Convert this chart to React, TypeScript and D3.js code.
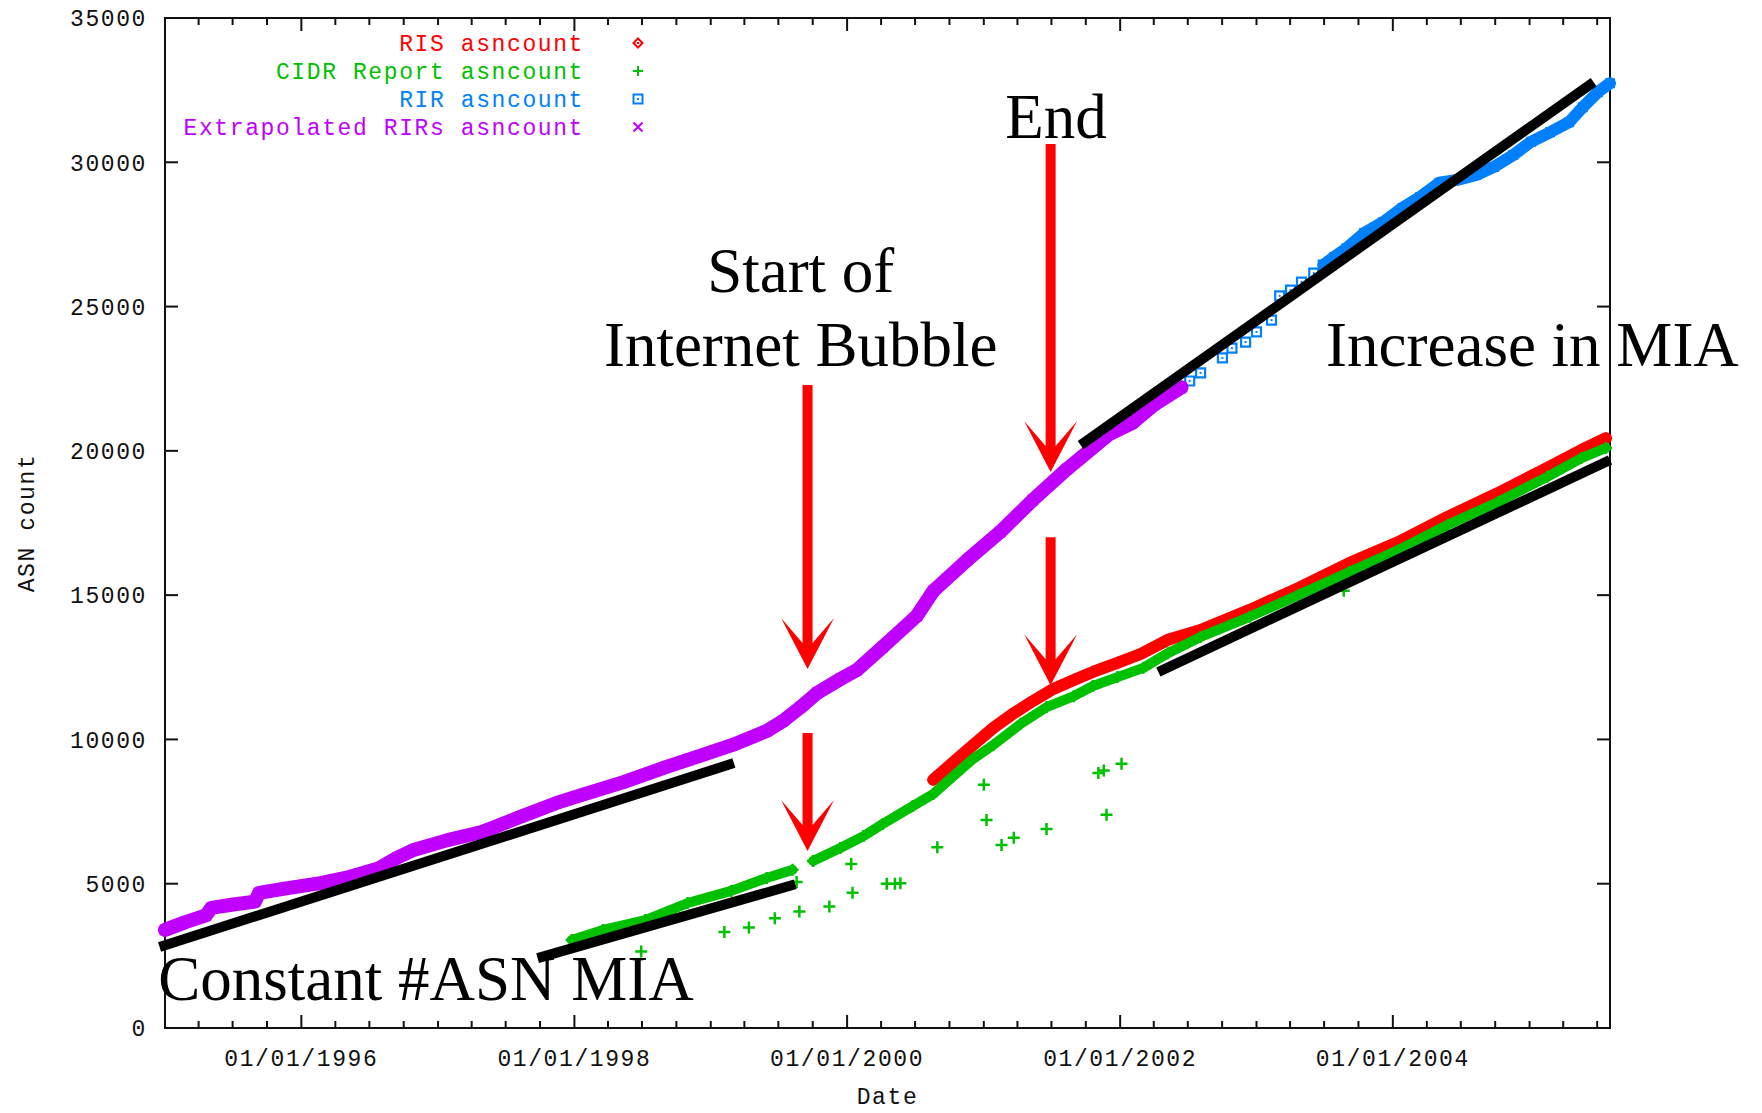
import React, { useEffect, useRef } from 'react';
import * as d3 from 'd3';

const W = 1762;
const H = 1113;

// all series: [decimal year, ASN count]
const risAsn: [number, number][] = [
  [2000.63, 8600], [2000.77, 9180], [2000.92, 9800], [2001.07, 10400], [2001.21, 10880],
  [2001.36, 11330], [2001.51, 11750], [2001.66, 12060], [2001.80, 12340], [2001.98, 12650],
  [2002.15, 12960], [2002.35, 13450], [2002.59, 13790], [2002.95, 14490], [2003.31, 15250],
  [2003.68, 16110], [2004.04, 16840], [2004.40, 17710], [2004.77, 18540], [2005.13, 19410],
  [2005.38, 20030], [2005.56, 20440],
];

// null = gap in the CIDR report band
const cidrAsn: [number, number | null][] = [
  [1997.98, 3050], [1998.21, 3400], [1998.52, 3740], [1998.83, 4330], [1999.15, 4750],
  [1999.41, 5200], [1999.60, 5480], [1999.68, null], [1999.75, 5790], [1999.95, 6240],
  [2000.12, 6650], [2000.26, 7070], [2000.48, 7690], [2000.63, 8110], [2000.77, 8700],
  [2000.92, 9320], [2001.07, 9810], [2001.27, 10540], [2001.46, 11120], [2001.66, 11500],
  [2001.80, 11850], [2001.98, 12160], [2002.17, 12480], [2002.35, 12990], [2002.59, 13550],
  [2002.95, 14250], [2003.31, 15010], [2003.68, 15800], [2004.04, 16560], [2004.40, 17430],
  [2004.77, 18230], [2005.13, 19100], [2005.38, 19750], [2005.56, 20100],
];

const cidrOutliers: [number, number][] = [
  [1998.49, 2650], [1999.10, 3330], [1999.28, 3480], [1999.47, 3800], [1999.65, 4040],
  [1999.63, 5060], [1999.87, 4210], [2000.04, 4690], [2000.03, 5680], [2000.29, 5000],
  [2000.35, 5000], [2000.39, 5020], [2000.66, 6260], [2001.00, 8430], [2001.02, 7210],
  [2001.13, 6340], [2001.22, 6590], [2001.46, 6900], [2001.84, 8840], [2001.88, 8920],
  [2002.01, 9160], [2001.90, 7390], [2003.64, 15150],
];

// early RIR reports, sparse enough to show single squares
const rirMonthly: [number, number][] = [
  [2002.44, 22180], [2002.51, 22420], [2002.59, 22700], [2002.75, 23220], [2002.82, 23560],
  [2002.92, 23770], [2003.00, 24120], [2003.11, 24530], [2003.17, 25370], [2003.25, 25570],
  [2003.33, 25850], [2003.42, 26160], [2003.49, 26440],
];

const rirAsn: [number, number][] = [
  [2003.49, 26440], [2003.57, 26720], [2003.66, 27020], [2003.79, 27550], [2003.93, 27930],
  [2004.07, 28420], [2004.20, 28800], [2004.34, 29290], [2004.47, 29390], [2004.61, 29560],
  [2004.74, 29840], [2004.88, 30250], [2005.01, 30710], [2005.15, 31040], [2005.29, 31390],
  [2005.39, 31910], [2005.50, 32430], [2005.59, 32740],
];

const extrapolatedAsn: [number, number][] = [
  [1995.00, 3400], [1995.15, 3670], [1995.30, 3900], [1995.34, 4160], [1995.50, 4280],
  [1995.66, 4380], [1995.69, 4680], [1995.90, 4850], [1996.14, 5020], [1996.35, 5230],
  [1996.57, 5540], [1996.70, 5900], [1996.82, 6170], [1997.07, 6510], [1997.32, 6790],
  [1997.60, 7310], [1997.87, 7800], [1998.05, 8070], [1998.36, 8520], [1998.67, 9040],
  [1998.92, 9430], [1999.16, 9810], [1999.41, 10290], [1999.53, 10640], [1999.66, 11120],
  [1999.78, 11610], [1999.95, 12090], [2000.07, 12400], [2000.26, 13200], [2000.51, 14280],
  [2000.63, 15140], [2000.88, 16220], [2001.12, 17190], [2001.36, 18300], [2001.61, 19370],
  [2001.92, 20580], [2002.09, 20970], [2002.25, 21600], [2002.45, 22200],
];

const yTicks = [0, 5000, 10000, 15000, 20000, 25000, 30000, 35000];
const xDomain = [1995.0, 2005.59];

const legendItems = [
  { label: 'RIS asncount', color: '#ff0000', symbol: 'diamond' },
  { label: 'CIDR Report asncount', color: '#00c000', symbol: 'plus' },
  { label: 'RIR asncount', color: '#0080ff', symbol: 'square' },
  { label: 'Extrapolated RIRs asncount', color: '#c000ff', symbol: 'times' },
];

// hand drawn annotations, in data space
const trendLines: [number, number][][] = [
  [[1994.96, 2810], [1999.17, 9180]],
  [[1997.73, 2420], [1999.62, 4980]],
  [[2001.71, 20200], [2005.47, 32780]],
  [[2002.28, 12340], [2005.59, 19680]],
];

const arrows = [
  { at: 1999.71, from: 22280, to: 12440 },
  { at: 1999.71, from: 10220, to: 6130 },
  { at: 2001.49, from: 30630, to: 19270 },
  { at: 2001.49, from: 17010, to: 11880 },
];

const notes = [
  { text: 'End', at: 2001.53, value: 30840, anchor: 'middle' },
  { text: 'Start of', at: 1999.66, value: 25500, anchor: 'middle' },
  { text: 'Internet Bubble', at: 1999.66, value: 22940, anchor: 'middle' },
  { text: 'Increase in MIA', at: 2003.51, value: 22940, anchor: 'start' },
  { text: 'Constant #ASN MIA', at: 1994.95, value: 970, anchor: 'start' },
];

const toDate = (y: number) => {
  const yr = Math.floor(y);
  const a = Date.UTC(yr, 0, 1);
  const b = Date.UTC(yr + 1, 0, 1);
  return new Date(a + (y - yr) * (b - a));
};

const markerPath = (kind: string, s: number) => {
  switch (kind) {
    case 'diamond': return `M0,${-s}L${s},0L0,${s}L${-s},0Z`;
    case 'plus': return `M${-s},0H${s}M0,${-s}V${s}`;
    case 'square': return `M${-s},${-s}H${s}V${s}H${-s}Z`;
    default: return `M${-s},${-s}L${s},${s}M${s},${-s}L${-s},${s}`;
  }
};

const MONO = '"Liberation Mono", "DejaVu Sans Mono", monospace';
const SERIF = '"Liberation Serif", "Times New Roman", serif';

export default function App() {
  const ref = useRef<SVGSVGElement>(null);

  useEffect(() => {
    const svg = d3.select(ref.current);
    svg.selectAll('*').remove();

    const left = 165, right = 1610, top = 18, bottom = 1028;

    const x = d3.scaleUtc().domain(xDomain.map(toDate)).range([left, right]);
    const y = d3.scaleLinear().domain([0, 35000]).range([bottom, top]);
    const px = (d: number) => x(toDate(d));

    svg.append('rect').attr('width', W).attr('height', H).attr('fill', '#fff');

    // ticks, mirrored on all four sides like gnuplot
    const axis = svg.append('g').attr('stroke', '#111').attr('stroke-width', 2);
    const minor = x.ticks(d3.utcMonth.every(3)!);
    minor.forEach(t => {
      const major = t.getUTCMonth() === 0 && t.getUTCFullYear() % 2 === 0;
      const len = major ? 13 : 7;
      const xx = x(t);
      axis.append('line').attr('x1', xx).attr('x2', xx).attr('y1', bottom).attr('y2', bottom - len);
      axis.append('line').attr('x1', xx).attr('x2', xx).attr('y1', top).attr('y2', top + len);
    });
    yTicks.forEach(v => {
      axis.append('line').attr('x1', left).attr('x2', left + 13).attr('y1', y(v)).attr('y2', y(v));
      axis.append('line').attr('x1', right).attr('x2', right - 13).attr('y1', y(v)).attr('y2', y(v));
    });
    axis.append('rect')
      .attr('x', left).attr('y', top).attr('width', right - left).attr('height', bottom - top)
      .attr('fill', 'none');

    const label = svg.append('g')
      .attr('font-family', MONO).attr('font-size', 23).attr('fill', '#111')
      .attr('letter-spacing', 1.6);

    yTicks.forEach(v => {
      label.append('text').attr('x', 147).attr('y', y(v)).attr('dy', '0.36em')
        .attr('text-anchor', 'end').text(String(v));
    });
    const fmt = d3.utcFormat('%m/%d/%Y');
    x.ticks(d3.utcYear.every(2)!).forEach(t => {
      label.append('text').attr('x', x(t)).attr('y', 1066)
        .attr('text-anchor', 'middle').text(fmt(t));
    });
    label.append('text').attr('x', (left + right) / 2).attr('y', 1104)
      .attr('text-anchor', 'middle').text('Date');
    label.append('text')
      .attr('transform', `translate(34,${(top + bottom) / 2}) rotate(-90)`)
      .attr('text-anchor', 'middle').text('ASN count');

    // series
    const plot = svg.append('g');
    const line = d3.line<[number, number | null]>()
      .defined(d => d[1] !== null)
      .x(d => px(d[0]))
      .y(d => y(d[1] as number));

    const band = (data: [number, number | null][], color: string, width: number) => {
      plot.append('path').datum(data).attr('d', line)
        .attr('fill', 'none').attr('stroke', color).attr('stroke-width', width)
        .attr('stroke-linejoin', 'round').attr('stroke-linecap', 'round');
    };
    const marks = (data: [number, number | null][], kind: string, color: string, s: number, sw: number) => {
      plot.append('g').selectAll('path')
        .data(data.filter(d => d[1] !== null))
        .join('path')
        .attr('transform', d => `translate(${px(d[0])},${y(d[1] as number)})`)
        .attr('d', markerPath(kind, s))
        .attr('fill', 'none').attr('stroke', color).attr('stroke-width', sw);
    };

    band(risAsn, '#ff0000', 12);
    marks(risAsn, 'diamond', '#ff0000', 5, 2);

    band(cidrAsn, '#00c000', 10);
    marks(cidrAsn, 'plus', '#00c000', 6, 2.5);
    marks(cidrOutliers, 'plus', '#00c000', 6, 2.5);

    band(rirAsn, '#0080ff', 12);
    marks(rirAsn, 'square', '#0080ff', 4, 2);
    marks(rirMonthly, 'square', '#0080ff', 4.5, 2.2);
    plot.append('g').selectAll('rect').data(rirMonthly).join('rect')
      .attr('x', d => px(d[0]) - 1).attr('y', d => y(d[1]) - 1)
      .attr('width', 2).attr('height', 2).attr('fill', '#0080ff');

    band(extrapolatedAsn, '#c000ff', 14);
    marks(extrapolatedAsn, 'times', '#c000ff', 5, 2);

    // legend
    const leg = svg.append('g').attr('font-family', MONO).attr('font-size', 23).attr('letter-spacing', 1.6);
    legendItems.forEach((it, i) => {
      const ly = 43 + i * 28;
      leg.append('text').attr('x', 584).attr('y', ly).attr('dy', '0.36em')
        .attr('text-anchor', 'end').attr('fill', it.color).text(it.label);
      leg.append('path').attr('transform', `translate(638,${ly})`)
        .attr('d', markerPath(it.symbol, it.symbol === 'plus' ? 5 : 4.5))
        .attr('fill', 'none').attr('stroke', it.color).attr('stroke-width', 2);
      if (it.symbol === 'diamond' || it.symbol === 'square') {
        leg.append('rect').attr('x', 637).attr('y', ly - 1).attr('width', 2).attr('height', 2).attr('fill', it.color);
      }
    });

    // annotations
    const ann = svg.append('g');
    trendLines.forEach(seg => {
      ann.append('line')
        .attr('x1', px(seg[0][0])).attr('y1', y(seg[0][1]))
        .attr('x2', px(seg[1][0])).attr('y2', y(seg[1][1]))
        .attr('stroke', '#000').attr('stroke-width', 10);
    });
    arrows.forEach(a => {
      const ax = px(a.at), y0 = y(a.from), ty = y(a.to);
      const p = d3.path();
      p.moveTo(ax - 5, y0);
      p.lineTo(ax + 5, y0);
      p.lineTo(ax + 5, ty - 26);
      p.lineTo(ax + 26.5, ty - 51);
      p.lineTo(ax, ty);
      p.lineTo(ax - 26.5, ty - 51);
      p.lineTo(ax - 5, ty - 26);
      p.closePath();
      ann.append('path').attr('d', p.toString()).attr('fill', '#ff0000');
    });
    notes.forEach(n => {
      ann.append('text').attr('x', px(n.at)).attr('y', y(n.value))
        .attr('text-anchor', n.anchor).attr('font-family', SERIF).attr('font-size', 63)
        .attr('fill', '#000').text(n.text);
    });
  }, []);

  return (
    <svg ref={ref} width={W} height={H}
      style={{ position: 'absolute', left: 0, top: 0, display: 'block' }} />
  );
}
